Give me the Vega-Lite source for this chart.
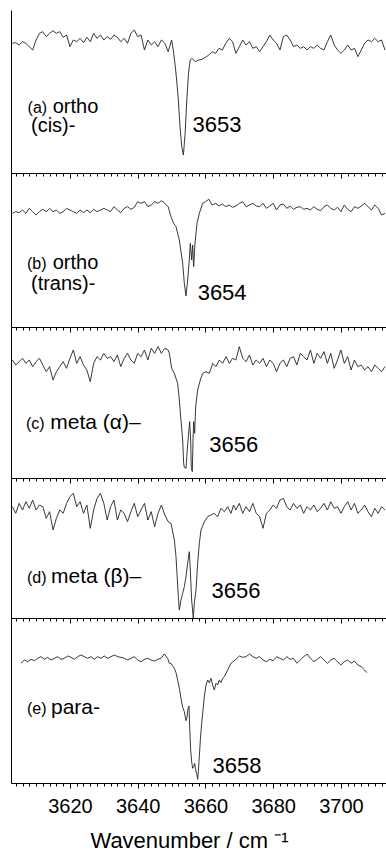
{
"$schema": "https://vega.github.io/schema/vega-lite/v6.json",
"padding": {"left": 10, "top": 10, "right": 0, "bottom": 0},
"bounds": "flush",
"spacing": 0,
"background": "white",
"config": {
  "view": {"stroke": null},
  "font": "Liberation Sans",
  "axis": {"domainColor": "#000", "tickColor": "#000", "domainWidth": 1, "tickWidth": 1, "grid": false, "labelColor": "#000", "titleColor": "#000", "labelFont": "Liberation Sans", "titleFont": "Liberation Sans", "titleFontWeight": "normal"},
  "text": {"font": "Liberation Sans", "color": "#000"},
  "line": {"stroke": "#222", "strokeWidth": 0.9}
},
"datasets": {
"labels": [
{"p":"a","k":"tag","w":3607.5,"v":180,"t":"(a)"},
{"p":"a","k":"name","w":3614.9,"v":180,"t":"ortho"},
{"p":"a","k":"name","w":3608.5,"v":122,"t":"(cis)-"},
{"p":"a","k":"peak","w":3656.2,"v":124,"t":"3653"},
{"p":"b","k":"tag","w":3607.3,"v":175,"t":"(b)"},
{"p":"b","k":"name","w":3614.9,"v":175,"t":"ortho"},
{"p":"b","k":"name","w":3608.5,"v":110,"t":"(trans)-"},
{"p":"b","k":"peak","w":3657.7,"v":81,"t":"3654"},
{"p":"c","k":"tag","w":3607.0,"v":146,"t":"(c)"},
{"p":"c","k":"name","w":3614.2,"v":146,"t":"meta (α)–"},
{"p":"c","k":"peak","w":3661.15,"v":79,"t":"3656"},
{"p":"d","k":"tag","w":3607.3,"v":104,"t":"(d)"},
{"p":"d","k":"name","w":3614.4,"v":104,"t":"meta (β)–"},
{"p":"d","k":"peak","w":3661.8,"v":59,"t":"3656"},
{"p":"e","k":"tag","w":3607.3,"v":206,"t":"(e)"},
{"p":"e","k":"name","w":3614.4,"v":206,"t":"para-"},
{"p":"e","k":"peak","w":3662.1,"v":29,"t":"3658"}
],
"spectra": [
{"p":"a","w":3603,"v":389},{"p":"a","w":3604,"v":391},{"p":"a","w":3605,"v":384},{"p":"a","w":3606,"v":394},{"p":"a","w":3607,"v":389},{"p":"a","w":3608,"v":379},{"p":"a","w":3609,"v":369},{"p":"a","w":3610,"v":399},{"p":"a","w":3611,"v":419},{"p":"a","w":3612,"v":424},{"p":"a","w":3613,"v":409},{"p":"a","w":3614,"v":419},{"p":"a","w":3615,"v":427},{"p":"a","w":3616,"v":419},{"p":"a","w":3617,"v":424},{"p":"a","w":3618,"v":407},{"p":"a","w":3619,"v":414},{"p":"a","w":3620,"v":379},{"p":"a","w":3621,"v":399},{"p":"a","w":3622,"v":394},{"p":"a","w":3623,"v":404},{"p":"a","w":3624,"v":391},{"p":"a","w":3625,"v":407},{"p":"a","w":3626,"v":394},{"p":"a","w":3627,"v":419},{"p":"a","w":3628,"v":404},{"p":"a","w":3629,"v":414},{"p":"a","w":3630,"v":399},{"p":"a","w":3631,"v":409},{"p":"a","w":3632,"v":401},{"p":"a","w":3633,"v":414},{"p":"a","w":3634,"v":407},{"p":"a","w":3635,"v":394},{"p":"a","w":3636,"v":404},{"p":"a","w":3637,"v":389},{"p":"a","w":3638,"v":419},{"p":"a","w":3639,"v":429},{"p":"a","w":3640,"v":409},{"p":"a","w":3641,"v":414},{"p":"a","w":3642,"v":369},{"p":"a","w":3643,"v":399},{"p":"a","w":3644,"v":384},{"p":"a","w":3645,"v":394},{"p":"a","w":3646,"v":379},{"p":"a","w":3647,"v":399},{"p":"a","w":3648,"v":389},{"p":"a","w":3649,"v":364},{"p":"a","w":3650,"v":399},{"p":"a","w":3650.5,"v":369},{"p":"a","w":3651,"v":329},{"p":"a","w":3651.5,"v":279},{"p":"a","w":3652,"v":219},{"p":"a","w":3652.5,"v":139},{"p":"a","w":3653,"v":79},{"p":"a","w":3653.5,"v":54},{"p":"a","w":3654,"v":119},{"p":"a","w":3654.5,"v":219},{"p":"a","w":3655,"v":299},{"p":"a","w":3655.5,"v":339},{"p":"a","w":3656,"v":344},{"p":"a","w":3657,"v":334},{"p":"a","w":3658,"v":339},{"p":"a","w":3659,"v":341},{"p":"a","w":3660,"v":347},{"p":"a","w":3661,"v":354},{"p":"a","w":3662,"v":364},{"p":"a","w":3663,"v":359},{"p":"a","w":3664,"v":374},{"p":"a","w":3665,"v":369},{"p":"a","w":3666,"v":389},{"p":"a","w":3667,"v":404},{"p":"a","w":3668,"v":394},{"p":"a","w":3669,"v":359},{"p":"a","w":3670,"v":379},{"p":"a","w":3671,"v":399},{"p":"a","w":3672,"v":384},{"p":"a","w":3673,"v":394},{"p":"a","w":3674,"v":374},{"p":"a","w":3675,"v":379},{"p":"a","w":3676,"v":364},{"p":"a","w":3677,"v":379},{"p":"a","w":3678,"v":394},{"p":"a","w":3679,"v":414},{"p":"a","w":3680,"v":399},{"p":"a","w":3681,"v":389},{"p":"a","w":3682,"v":369},{"p":"a","w":3683,"v":409},{"p":"a","w":3684,"v":414},{"p":"a","w":3685,"v":399},{"p":"a","w":3686,"v":379},{"p":"a","w":3687,"v":384},{"p":"a","w":3688,"v":374},{"p":"a","w":3689,"v":379},{"p":"a","w":3690,"v":369},{"p":"a","w":3691,"v":379},{"p":"a","w":3692,"v":374},{"p":"a","w":3693,"v":384},{"p":"a","w":3694,"v":374},{"p":"a","w":3695,"v":369},{"p":"a","w":3696,"v":394},{"p":"a","w":3697,"v":414},{"p":"a","w":3698,"v":384},{"p":"a","w":3699,"v":369},{"p":"a","w":3700,"v":359},{"p":"a","w":3701,"v":369},{"p":"a","w":3702,"v":384},{"p":"a","w":3703,"v":369},{"p":"a","w":3704,"v":374},{"p":"a","w":3705,"v":349},{"p":"a","w":3706,"v":369},{"p":"a","w":3707,"v":389},{"p":"a","w":3708,"v":399},{"p":"a","w":3709,"v":394},{"p":"a","w":3710,"v":404},{"p":"a","w":3711,"v":394},{"p":"a","w":3712,"v":399},{"p":"a","w":3713,"v":369},
{"p":"b","w":3603,"v":341},{"p":"b","w":3604,"v":346},{"p":"b","w":3605,"v":343},{"p":"b","w":3606,"v":351},{"p":"b","w":3607,"v":341},{"p":"b","w":3608,"v":356},{"p":"b","w":3609,"v":346},{"p":"b","w":3610,"v":336},{"p":"b","w":3611,"v":346},{"p":"b","w":3612,"v":353},{"p":"b","w":3613,"v":346},{"p":"b","w":3614,"v":356},{"p":"b","w":3615,"v":346},{"p":"b","w":3616,"v":351},{"p":"b","w":3617,"v":341},{"p":"b","w":3618,"v":346},{"p":"b","w":3619,"v":356},{"p":"b","w":3620,"v":351},{"p":"b","w":3621,"v":346},{"p":"b","w":3622,"v":341},{"p":"b","w":3623,"v":351},{"p":"b","w":3624,"v":343},{"p":"b","w":3625,"v":351},{"p":"b","w":3626,"v":343},{"p":"b","w":3627,"v":353},{"p":"b","w":3628,"v":346},{"p":"b","w":3629,"v":351},{"p":"b","w":3630,"v":356},{"p":"b","w":3631,"v":351},{"p":"b","w":3632,"v":346},{"p":"b","w":3633,"v":361},{"p":"b","w":3634,"v":351},{"p":"b","w":3635,"v":343},{"p":"b","w":3636,"v":356},{"p":"b","w":3637,"v":361},{"p":"b","w":3638,"v":353},{"p":"b","w":3639,"v":359},{"p":"b","w":3640,"v":376},{"p":"b","w":3641,"v":371},{"p":"b","w":3642,"v":376},{"p":"b","w":3643,"v":361},{"p":"b","w":3644,"v":366},{"p":"b","w":3645,"v":376},{"p":"b","w":3646,"v":371},{"p":"b","w":3647,"v":379},{"p":"b","w":3648,"v":371},{"p":"b","w":3649,"v":361},{"p":"b","w":3649.83,"v":331},{"p":"b","w":3650.62,"v":311},{"p":"b","w":3651.31,"v":301},{"p":"b","w":3652.29,"v":261},{"p":"b","w":3653.28,"v":191},{"p":"b","w":3653.77,"v":131},{"p":"b","w":3654.26,"v":93},{"p":"b","w":3654.75,"v":141},{"p":"b","w":3655.24,"v":201},{"p":"b","w":3655.54,"v":251},{"p":"b","w":3655.93,"v":201},{"p":"b","w":3656.23,"v":246},{"p":"b","w":3656.52,"v":181},{"p":"b","w":3656.92,"v":251},{"p":"b","w":3657.51,"v":311},{"p":"b","w":3658.2,"v":341},{"p":"b","w":3659.18,"v":371},{"p":"b","w":3660,"v":376},{"p":"b","w":3661,"v":383},{"p":"b","w":3662,"v":366},{"p":"b","w":3663,"v":371},{"p":"b","w":3664,"v":363},{"p":"b","w":3665,"v":369},{"p":"b","w":3666,"v":361},{"p":"b","w":3667,"v":366},{"p":"b","w":3668,"v":359},{"p":"b","w":3669,"v":363},{"p":"b","w":3670,"v":371},{"p":"b","w":3671,"v":376},{"p":"b","w":3672,"v":361},{"p":"b","w":3673,"v":366},{"p":"b","w":3674,"v":371},{"p":"b","w":3675,"v":363},{"p":"b","w":3676,"v":361},{"p":"b","w":3677,"v":371},{"p":"b","w":3678,"v":356},{"p":"b","w":3679,"v":363},{"p":"b","w":3680,"v":371},{"p":"b","w":3681,"v":351},{"p":"b","w":3682,"v":366},{"p":"b","w":3683,"v":369},{"p":"b","w":3684,"v":356},{"p":"b","w":3685,"v":363},{"p":"b","w":3686,"v":353},{"p":"b","w":3687,"v":359},{"p":"b","w":3688,"v":361},{"p":"b","w":3689,"v":353},{"p":"b","w":3690,"v":356},{"p":"b","w":3691,"v":351},{"p":"b","w":3692,"v":361},{"p":"b","w":3693,"v":353},{"p":"b","w":3694,"v":349},{"p":"b","w":3695,"v":361},{"p":"b","w":3696,"v":366},{"p":"b","w":3697,"v":356},{"p":"b","w":3698,"v":351},{"p":"b","w":3699,"v":359},{"p":"b","w":3700,"v":346},{"p":"b","w":3701,"v":366},{"p":"b","w":3702,"v":353},{"p":"b","w":3703,"v":346},{"p":"b","w":3704,"v":361},{"p":"b","w":3705,"v":356},{"p":"b","w":3706,"v":363},{"p":"b","w":3707,"v":371},{"p":"b","w":3708,"v":361},{"p":"b","w":3709,"v":351},{"p":"b","w":3710,"v":366},{"p":"b","w":3711,"v":356},{"p":"b","w":3712,"v":336},{"p":"b","w":3713,"v":341},
{"p":"c","w":3603,"v":354},{"p":"c","w":3604,"v":339},{"p":"c","w":3605,"v":349},{"p":"c","w":3606,"v":359},{"p":"c","w":3607,"v":344},{"p":"c","w":3608,"v":354},{"p":"c","w":3609,"v":334},{"p":"c","w":3610,"v":349},{"p":"c","w":3611,"v":359},{"p":"c","w":3612,"v":339},{"p":"c","w":3613,"v":319},{"p":"c","w":3614,"v":334},{"p":"c","w":3615,"v":294},{"p":"c","w":3616,"v":319},{"p":"c","w":3617,"v":334},{"p":"c","w":3618,"v":349},{"p":"c","w":3619,"v":329},{"p":"c","w":3620,"v":359},{"p":"c","w":3621,"v":384},{"p":"c","w":3622,"v":344},{"p":"c","w":3623,"v":364},{"p":"c","w":3624,"v":339},{"p":"c","w":3625,"v":324},{"p":"c","w":3626,"v":289},{"p":"c","w":3627,"v":344},{"p":"c","w":3628,"v":364},{"p":"c","w":3629,"v":354},{"p":"c","w":3630,"v":374},{"p":"c","w":3631,"v":359},{"p":"c","w":3632,"v":364},{"p":"c","w":3633,"v":349},{"p":"c","w":3634,"v":369},{"p":"c","w":3635,"v":334},{"p":"c","w":3636,"v":359},{"p":"c","w":3637,"v":374},{"p":"c","w":3638,"v":354},{"p":"c","w":3639,"v":344},{"p":"c","w":3640,"v":374},{"p":"c","w":3641,"v":364},{"p":"c","w":3642,"v":384},{"p":"c","w":3643,"v":354},{"p":"c","w":3644,"v":389},{"p":"c","w":3645,"v":374},{"p":"c","w":3646,"v":394},{"p":"c","w":3647,"v":374},{"p":"c","w":3648,"v":389},{"p":"c","w":3649,"v":384},{"p":"c","w":3649.34,"v":374},{"p":"c","w":3650.03,"v":329},{"p":"c","w":3650.82,"v":314},{"p":"c","w":3651.8,"v":284},{"p":"c","w":3652.29,"v":234},{"p":"c","w":3652.78,"v":174},{"p":"c","w":3653.28,"v":114},{"p":"c","w":3653.57,"v":44},{"p":"c","w":3653.77,"v":32},{"p":"c","w":3654.26,"v":29},{"p":"c","w":3654.56,"v":74},{"p":"c","w":3654.95,"v":124},{"p":"c","w":3655.34,"v":169},{"p":"c","w":3655.64,"v":114},{"p":"c","w":3655.83,"v":29},{"p":"c","w":3656.13,"v":19},{"p":"c","w":3656.33,"v":114},{"p":"c","w":3656.52,"v":169},{"p":"c","w":3656.82,"v":134},{"p":"c","w":3657.11,"v":214},{"p":"c","w":3657.7,"v":264},{"p":"c","w":3658.49,"v":294},{"p":"c","w":3659.18,"v":314},{"p":"c","w":3660.17,"v":319},{"p":"c","w":3661.15,"v":314},{"p":"c","w":3662.13,"v":344},{"p":"c","w":3663.12,"v":334},{"p":"c","w":3664.1,"v":354},{"p":"c","w":3665.08,"v":344},{"p":"c","w":3666.07,"v":364},{"p":"c","w":3667.05,"v":344},{"p":"c","w":3668,"v":359},{"p":"c","w":3669,"v":354},{"p":"c","w":3670,"v":394},{"p":"c","w":3671,"v":359},{"p":"c","w":3672,"v":349},{"p":"c","w":3673,"v":369},{"p":"c","w":3674,"v":339},{"p":"c","w":3675,"v":354},{"p":"c","w":3676,"v":344},{"p":"c","w":3677,"v":359},{"p":"c","w":3678,"v":334},{"p":"c","w":3679,"v":354},{"p":"c","w":3680,"v":344},{"p":"c","w":3681,"v":319},{"p":"c","w":3682,"v":344},{"p":"c","w":3683,"v":354},{"p":"c","w":3684,"v":334},{"p":"c","w":3685,"v":359},{"p":"c","w":3686,"v":364},{"p":"c","w":3687,"v":339},{"p":"c","w":3688,"v":374},{"p":"c","w":3689,"v":364},{"p":"c","w":3690,"v":354},{"p":"c","w":3691,"v":384},{"p":"c","w":3692,"v":344},{"p":"c","w":3693,"v":374},{"p":"c","w":3694,"v":359},{"p":"c","w":3695,"v":379},{"p":"c","w":3696,"v":344},{"p":"c","w":3697,"v":374},{"p":"c","w":3698,"v":329},{"p":"c","w":3699,"v":354},{"p":"c","w":3700,"v":384},{"p":"c","w":3701,"v":344},{"p":"c","w":3702,"v":364},{"p":"c","w":3703,"v":324},{"p":"c","w":3704,"v":354},{"p":"c","w":3705,"v":334},{"p":"c","w":3706,"v":339},{"p":"c","w":3707,"v":324},{"p":"c","w":3708,"v":334},{"p":"c","w":3709,"v":319},{"p":"c","w":3710,"v":339},{"p":"c","w":3711,"v":329},{"p":"c","w":3712,"v":319},{"p":"c","w":3713,"v":334},
{"p":"d","w":3603,"v":334},{"p":"d","w":3604,"v":314},{"p":"d","w":3605,"v":344},{"p":"d","w":3606,"v":324},{"p":"d","w":3607,"v":349},{"p":"d","w":3608,"v":329},{"p":"d","w":3609,"v":354},{"p":"d","w":3610,"v":324},{"p":"d","w":3611,"v":339},{"p":"d","w":3612,"v":334},{"p":"d","w":3613,"v":299},{"p":"d","w":3614,"v":319},{"p":"d","w":3615,"v":264},{"p":"d","w":3616,"v":299},{"p":"d","w":3617,"v":324},{"p":"d","w":3618,"v":314},{"p":"d","w":3619,"v":344},{"p":"d","w":3620,"v":364},{"p":"d","w":3621,"v":374},{"p":"d","w":3622,"v":334},{"p":"d","w":3623,"v":349},{"p":"d","w":3624,"v":314},{"p":"d","w":3625,"v":339},{"p":"d","w":3626,"v":269},{"p":"d","w":3627,"v":324},{"p":"d","w":3628,"v":359},{"p":"d","w":3629,"v":374},{"p":"d","w":3630,"v":344},{"p":"d","w":3631,"v":294},{"p":"d","w":3632,"v":334},{"p":"d","w":3633,"v":354},{"p":"d","w":3634,"v":294},{"p":"d","w":3635,"v":324},{"p":"d","w":3636,"v":314},{"p":"d","w":3637,"v":289},{"p":"d","w":3638,"v":319},{"p":"d","w":3639,"v":344},{"p":"d","w":3640,"v":304},{"p":"d","w":3641,"v":324},{"p":"d","w":3642,"v":344},{"p":"d","w":3643,"v":294},{"p":"d","w":3644,"v":319},{"p":"d","w":3645,"v":274},{"p":"d","w":3646,"v":314},{"p":"d","w":3647,"v":339},{"p":"d","w":3648,"v":309},{"p":"d","w":3649,"v":289},{"p":"d","w":3649.83,"v":284},{"p":"d","w":3650.82,"v":234},{"p":"d","w":3651.31,"v":184},{"p":"d","w":3651.6,"v":134},{"p":"d","w":3652,"v":64},{"p":"d","w":3652.29,"v":24},{"p":"d","w":3652.78,"v":54},{"p":"d","w":3653.28,"v":74},{"p":"d","w":3653.77,"v":94},{"p":"d","w":3654.26,"v":124},{"p":"d","w":3654.75,"v":164},{"p":"d","w":3655.24,"v":199},{"p":"d","w":3655.54,"v":144},{"p":"d","w":3655.93,"v":54},{"p":"d","w":3656.42,"v":0},{"p":"d","w":3656.72,"v":44},{"p":"d","w":3657.21,"v":84},{"p":"d","w":3657.7,"v":164},{"p":"d","w":3658.2,"v":224},{"p":"d","w":3658.69,"v":264},{"p":"d","w":3659.67,"v":289},{"p":"d","w":3660.66,"v":304},{"p":"d","w":3661.64,"v":309},{"p":"d","w":3662.62,"v":314},{"p":"d","w":3663.61,"v":304},{"p":"d","w":3664.59,"v":329},{"p":"d","w":3665.58,"v":319},{"p":"d","w":3666.56,"v":334},{"p":"d","w":3667.54,"v":314},{"p":"d","w":3668.3,"v":339},{"p":"d","w":3669,"v":324},{"p":"d","w":3670,"v":344},{"p":"d","w":3671,"v":314},{"p":"d","w":3672,"v":334},{"p":"d","w":3673,"v":319},{"p":"d","w":3674,"v":344},{"p":"d","w":3675,"v":314},{"p":"d","w":3676,"v":304},{"p":"d","w":3677,"v":269},{"p":"d","w":3678,"v":314},{"p":"d","w":3679,"v":324},{"p":"d","w":3680,"v":339},{"p":"d","w":3681,"v":329},{"p":"d","w":3682,"v":354},{"p":"d","w":3683,"v":359},{"p":"d","w":3684,"v":334},{"p":"d","w":3685,"v":324},{"p":"d","w":3686,"v":344},{"p":"d","w":3687,"v":329},{"p":"d","w":3688,"v":339},{"p":"d","w":3689,"v":314},{"p":"d","w":3690,"v":334},{"p":"d","w":3691,"v":324},{"p":"d","w":3692,"v":339},{"p":"d","w":3693,"v":319},{"p":"d","w":3694,"v":329},{"p":"d","w":3695,"v":344},{"p":"d","w":3696,"v":324},{"p":"d","w":3697,"v":349},{"p":"d","w":3698,"v":329},{"p":"d","w":3699,"v":334},{"p":"d","w":3700,"v":314},{"p":"d","w":3701,"v":334},{"p":"d","w":3702,"v":349},{"p":"d","w":3703,"v":324},{"p":"d","w":3704,"v":344},{"p":"d","w":3705,"v":314},{"p":"d","w":3706,"v":324},{"p":"d","w":3707,"v":339},{"p":"d","w":3708,"v":319},{"p":"d","w":3709,"v":304},{"p":"d","w":3710,"v":329},{"p":"d","w":3711,"v":314},{"p":"d","w":3712,"v":334},{"p":"d","w":3713,"v":324},
{"p":"e","w":3605.55,"v":359},{"p":"e","w":3606.54,"v":369},{"p":"e","w":3607.52,"v":364},{"p":"e","w":3608.5,"v":371},{"p":"e","w":3609.49,"v":367},{"p":"e","w":3610.47,"v":374},{"p":"e","w":3611.46,"v":379},{"p":"e","w":3612.44,"v":371},{"p":"e","w":3613.42,"v":377},{"p":"e","w":3614.41,"v":369},{"p":"e","w":3615.39,"v":374},{"p":"e","w":3616.38,"v":379},{"p":"e","w":3617.36,"v":371},{"p":"e","w":3618.34,"v":374},{"p":"e","w":3619.33,"v":381},{"p":"e","w":3620.31,"v":377},{"p":"e","w":3621.3,"v":371},{"p":"e","w":3622.28,"v":379},{"p":"e","w":3623.26,"v":384},{"p":"e","w":3624.25,"v":379},{"p":"e","w":3625.23,"v":374},{"p":"e","w":3626.22,"v":379},{"p":"e","w":3627.2,"v":371},{"p":"e","w":3628.18,"v":379},{"p":"e","w":3629.17,"v":374},{"p":"e","w":3630.15,"v":381},{"p":"e","w":3631.14,"v":374},{"p":"e","w":3632.12,"v":379},{"p":"e","w":3633.1,"v":384},{"p":"e","w":3634.09,"v":379},{"p":"e","w":3635.07,"v":377},{"p":"e","w":3636.06,"v":374},{"p":"e","w":3637.04,"v":369},{"p":"e","w":3638.02,"v":374},{"p":"e","w":3639.01,"v":379},{"p":"e","w":3639.99,"v":369},{"p":"e","w":3640.98,"v":364},{"p":"e","w":3641.96,"v":371},{"p":"e","w":3642.94,"v":374},{"p":"e","w":3643.93,"v":369},{"p":"e","w":3644.91,"v":366},{"p":"e","w":3645.9,"v":371},{"p":"e","w":3646.88,"v":374},{"p":"e","w":3647.86,"v":387},{"p":"e","w":3648.85,"v":374},{"p":"e","w":3649.34,"v":359},{"p":"e","w":3649.83,"v":359},{"p":"e","w":3650.33,"v":351},{"p":"e","w":3650.82,"v":344},{"p":"e","w":3651.31,"v":331},{"p":"e","w":3651.8,"v":309},{"p":"e","w":3652.29,"v":284},{"p":"e","w":3652.78,"v":254},{"p":"e","w":3653.28,"v":227},{"p":"e","w":3653.77,"v":214},{"p":"e","w":3654.26,"v":187},{"p":"e","w":3654.56,"v":197},{"p":"e","w":3654.85,"v":224},{"p":"e","w":3655.15,"v":231},{"p":"e","w":3655.34,"v":169},{"p":"e","w":3655.64,"v":99},{"p":"e","w":3655.93,"v":64},{"p":"e","w":3656.23,"v":44},{"p":"e","w":3656.52,"v":49},{"p":"e","w":3656.82,"v":59},{"p":"e","w":3657.11,"v":39},{"p":"e","w":3657.41,"v":29},{"p":"e","w":3657.7,"v":11},{"p":"e","w":3657.9,"v":34},{"p":"e","w":3658.2,"v":79},{"p":"e","w":3658.49,"v":129},{"p":"e","w":3658.89,"v":179},{"p":"e","w":3659.28,"v":219},{"p":"e","w":3659.67,"v":259},{"p":"e","w":3660.17,"v":294},{"p":"e","w":3660.66,"v":309},{"p":"e","w":3661.15,"v":301},{"p":"e","w":3661.64,"v":314},{"p":"e","w":3662.13,"v":294},{"p":"e","w":3662.62,"v":279},{"p":"e","w":3663.12,"v":299},{"p":"e","w":3663.61,"v":294},{"p":"e","w":3664.1,"v":309},{"p":"e","w":3664.59,"v":301},{"p":"e","w":3665.08,"v":314},{"p":"e","w":3665.58,"v":319},{"p":"e","w":3666.56,"v":339},{"p":"e","w":3667.54,"v":359},{"p":"e","w":3669,"v":371},{"p":"e","w":3670,"v":381},{"p":"e","w":3671,"v":377},{"p":"e","w":3672,"v":379},{"p":"e","w":3673,"v":387},{"p":"e","w":3674,"v":379},{"p":"e","w":3675,"v":374},{"p":"e","w":3676,"v":379},{"p":"e","w":3677,"v":369},{"p":"e","w":3678,"v":364},{"p":"e","w":3679,"v":371},{"p":"e","w":3680,"v":367},{"p":"e","w":3681,"v":379},{"p":"e","w":3682,"v":374},{"p":"e","w":3683,"v":369},{"p":"e","w":3684,"v":379},{"p":"e","w":3685,"v":371},{"p":"e","w":3686,"v":374},{"p":"e","w":3687,"v":359},{"p":"e","w":3688,"v":369},{"p":"e","w":3689,"v":379},{"p":"e","w":3690,"v":387},{"p":"e","w":3691,"v":374},{"p":"e","w":3692,"v":364},{"p":"e","w":3693,"v":371},{"p":"e","w":3694,"v":379},{"p":"e","w":3695,"v":369},{"p":"e","w":3696,"v":359},{"p":"e","w":3697,"v":369},{"p":"e","w":3698,"v":374},{"p":"e","w":3699,"v":364},{"p":"e","w":3700,"v":354},{"p":"e","w":3701,"v":364},{"p":"e","w":3702,"v":369},{"p":"e","w":3703,"v":359},{"p":"e","w":3704,"v":366},{"p":"e","w":3705,"v":354},{"p":"e","w":3706,"v":349},{"p":"e","w":3707,"v":339},{"p":"e","w":3707.6,"v":331}
]
},
"vconcat": [
{
 "width": 376, "height": 163,
 "encoding": {
  "x": {"field": "w", "type": "quantitative", "scale": {"domain": [3602.6, 3713.6], "nice": false, "zero": false},
        "axis": {"values": [3604,3606,3608,3610,3612,3614,3616,3618,3620,3622,3624,3626,3628,3630,3632,3634,3636,3638,3640,3642,3644,3646,3648,3650,3652,3654,3656,3658,3660,3662,3664,3666,3668,3670,3672,3674,3676,3678,3680,3682,3684,3686,3688,3690,3692,3694,3696,3698,3700,3702,3704,3706,3708,3710,3712], "labels": false, "title": null, "tickSize": {"condition": {"test": "datum.value % 20 === 0", "value": 5}, "value": 3}}},
  "y": {"field": "v", "type": "quantitative", "scale": {"domain": [0, 489], "nice": false, "zero": false}, "axis": {"ticks": false, "labels": false, "title": null}}
 },
 "layer": [
  {"data": {"name": "spectra"}, "transform": [{"filter": "datum.p === 'a'"}], "mark": {"type": "line"}},
  {"data": {"name": "labels"}, "transform": [{"filter": "datum.p === 'a' && datum.k === 'tag'"}], "mark": {"type": "text", "align": "left", "baseline": "alphabetic", "fontSize": 16}, "encoding": {"text": {"field": "t"}}},
  {"data": {"name": "labels"}, "transform": [{"filter": "datum.p === 'a' && datum.k === 'name'"}], "mark": {"type": "text", "align": "left", "baseline": "alphabetic", "fontSize": 20}, "encoding": {"text": {"field": "t"}}},
  {"data": {"name": "labels"}, "transform": [{"filter": "datum.p === 'a' && datum.k === 'peak'"}], "mark": {"type": "text", "align": "left", "baseline": "alphabetic", "fontSize": 22}, "encoding": {"text": {"field": "t"}}}
 ]
},
{
 "width": 376, "height": 154,
 "encoding": {
  "x": {"field": "w", "type": "quantitative", "scale": {"domain": [3602.6, 3713.6], "nice": false, "zero": false},
        "axis": {"values": [3604,3606,3608,3610,3612,3614,3616,3618,3620,3622,3624,3626,3628,3630,3632,3634,3636,3638,3640,3642,3644,3646,3648,3650,3652,3654,3656,3658,3660,3662,3664,3666,3668,3670,3672,3674,3676,3678,3680,3682,3684,3686,3688,3690,3692,3694,3696,3698,3700,3702,3704,3706,3708,3710,3712], "labels": false, "title": null, "tickSize": {"condition": {"test": "datum.value % 20 === 0", "value": 5}, "value": 3}}},
  "y": {"field": "v", "type": "quantitative", "scale": {"domain": [0, 462], "nice": false, "zero": false}, "axis": {"ticks": false, "labels": false, "title": null}}
 },
 "layer": [
  {"data": {"name": "spectra"}, "transform": [{"filter": "datum.p === 'b'"}], "mark": {"type": "line"}},
  {"data": {"name": "labels"}, "transform": [{"filter": "datum.p === 'b' && datum.k === 'tag'"}], "mark": {"type": "text", "align": "left", "baseline": "alphabetic", "fontSize": 16}, "encoding": {"text": {"field": "t"}}},
  {"data": {"name": "labels"}, "transform": [{"filter": "datum.p === 'b' && datum.k === 'name'"}], "mark": {"type": "text", "align": "left", "baseline": "alphabetic", "fontSize": 20}, "encoding": {"text": {"field": "t"}}},
  {"data": {"name": "labels"}, "transform": [{"filter": "datum.p === 'b' && datum.k === 'peak'"}], "mark": {"type": "text", "align": "left", "baseline": "alphabetic", "fontSize": 22}, "encoding": {"text": {"field": "t"}}}
 ]
},
{
 "width": 376, "height": 151,
 "encoding": {
  "x": {"field": "w", "type": "quantitative", "scale": {"domain": [3602.6, 3713.6], "nice": false, "zero": false},
        "axis": {"values": [3604,3606,3608,3610,3612,3614,3616,3618,3620,3622,3624,3626,3628,3630,3632,3634,3636,3638,3640,3642,3644,3646,3648,3650,3652,3654,3656,3658,3660,3662,3664,3666,3668,3670,3672,3674,3676,3678,3680,3682,3684,3686,3688,3690,3692,3694,3696,3698,3700,3702,3704,3706,3708,3710,3712], "labels": false, "title": null, "tickSize": {"condition": {"test": "datum.value % 20 === 0", "value": 5}, "value": 3}}},
  "y": {"field": "v", "type": "quantitative", "scale": {"domain": [0, 453], "nice": false, "zero": false}, "axis": {"ticks": false, "labels": false, "title": null}}
 },
 "layer": [
  {"data": {"name": "spectra"}, "transform": [{"filter": "datum.p === 'c'"}], "mark": {"type": "line"}},
  {"data": {"name": "labels"}, "transform": [{"filter": "datum.p === 'c' && datum.k === 'tag'"}], "mark": {"type": "text", "align": "left", "baseline": "alphabetic", "fontSize": 16}, "encoding": {"text": {"field": "t"}}},
  {"data": {"name": "labels"}, "transform": [{"filter": "datum.p === 'c' && datum.k === 'name'"}], "mark": {"type": "text", "align": "left", "baseline": "alphabetic", "fontSize": 21}, "encoding": {"text": {"field": "t"}}},
  {"data": {"name": "labels"}, "transform": [{"filter": "datum.p === 'c' && datum.k === 'peak'"}], "mark": {"type": "text", "align": "left", "baseline": "alphabetic", "fontSize": 22}, "encoding": {"text": {"field": "t"}}}
 ]
},
{
 "width": 376, "height": 140,
 "encoding": {
  "x": {"field": "w", "type": "quantitative", "scale": {"domain": [3602.6, 3713.6], "nice": false, "zero": false},
        "axis": {"values": [3604,3606,3608,3610,3612,3614,3616,3618,3620,3622,3624,3626,3628,3630,3632,3634,3636,3638,3640,3642,3644,3646,3648,3650,3652,3654,3656,3658,3660,3662,3664,3666,3668,3670,3672,3674,3676,3678,3680,3682,3684,3686,3688,3690,3692,3694,3696,3698,3700,3702,3704,3706,3708,3710,3712], "labels": false, "title": null, "tickSize": {"condition": {"test": "datum.value % 20 === 0", "value": 5}, "value": 3}}},
  "y": {"field": "v", "type": "quantitative", "scale": {"domain": [0, 420], "nice": false, "zero": false}, "axis": {"ticks": false, "labels": false, "title": null}}
 },
 "layer": [
  {"data": {"name": "spectra"}, "transform": [{"filter": "datum.p === 'd'"}], "mark": {"type": "line"}},
  {"data": {"name": "labels"}, "transform": [{"filter": "datum.p === 'd' && datum.k === 'tag'"}], "mark": {"type": "text", "align": "left", "baseline": "alphabetic", "fontSize": 16}, "encoding": {"text": {"field": "t"}}},
  {"data": {"name": "labels"}, "transform": [{"filter": "datum.p === 'd' && datum.k === 'name'"}], "mark": {"type": "text", "align": "left", "baseline": "alphabetic", "fontSize": 21}, "encoding": {"text": {"field": "t"}}},
  {"data": {"name": "labels"}, "transform": [{"filter": "datum.p === 'd' && datum.k === 'peak'"}], "mark": {"type": "text", "align": "left", "baseline": "alphabetic", "fontSize": 22}, "encoding": {"text": {"field": "t"}}}
 ]
},
{
 "width": 376, "height": 165,
 "encoding": {
  "x": {"field": "w", "type": "quantitative", "scale": {"domain": [3602.6, 3713.6], "nice": false, "zero": false},
        "axis": {"values": [3604,3606,3608,3610,3612,3614,3616,3618,3620,3622,3624,3626,3628,3630,3632,3634,3636,3638,3640,3642,3644,3646,3648,3650,3652,3654,3656,3658,3660,3662,3664,3666,3668,3670,3672,3674,3676,3678,3680,3682,3684,3686,3688,3690,3692,3694,3696,3698,3700,3702,3704,3706,3708,3710,3712], "format": "d", "labelExpr": "datum.value % 20 === 0 ? datum.label : ''", "labelOverlap": false, "labelFontSize": 20, "labelPadding": 8, "title": "Wavenumber / cm ⁻¹", "titleFontSize": 22, "titlePadding": 14, "titleX": 178, "tickSize": {"condition": {"test": "datum.value % 20 === 0", "value": 5}, "value": 3}}},
  "y": {"field": "v", "type": "quantitative", "scale": {"domain": [0, 495], "nice": false, "zero": false}, "axis": {"ticks": false, "labels": false, "title": null}}
 },
 "layer": [
  {"data": {"name": "spectra"}, "transform": [{"filter": "datum.p === 'e'"}], "mark": {"type": "line"}},
  {"data": {"name": "labels"}, "transform": [{"filter": "datum.p === 'e' && datum.k === 'tag'"}], "mark": {"type": "text", "align": "left", "baseline": "alphabetic", "fontSize": 16}, "encoding": {"text": {"field": "t"}}},
  {"data": {"name": "labels"}, "transform": [{"filter": "datum.p === 'e' && datum.k === 'name'"}], "mark": {"type": "text", "align": "left", "baseline": "alphabetic", "fontSize": 21}, "encoding": {"text": {"field": "t"}}},
  {"data": {"name": "labels"}, "transform": [{"filter": "datum.p === 'e' && datum.k === 'peak'"}], "mark": {"type": "text", "align": "left", "baseline": "alphabetic", "fontSize": 22}, "encoding": {"text": {"field": "t"}}}
 ]
}
]
}
